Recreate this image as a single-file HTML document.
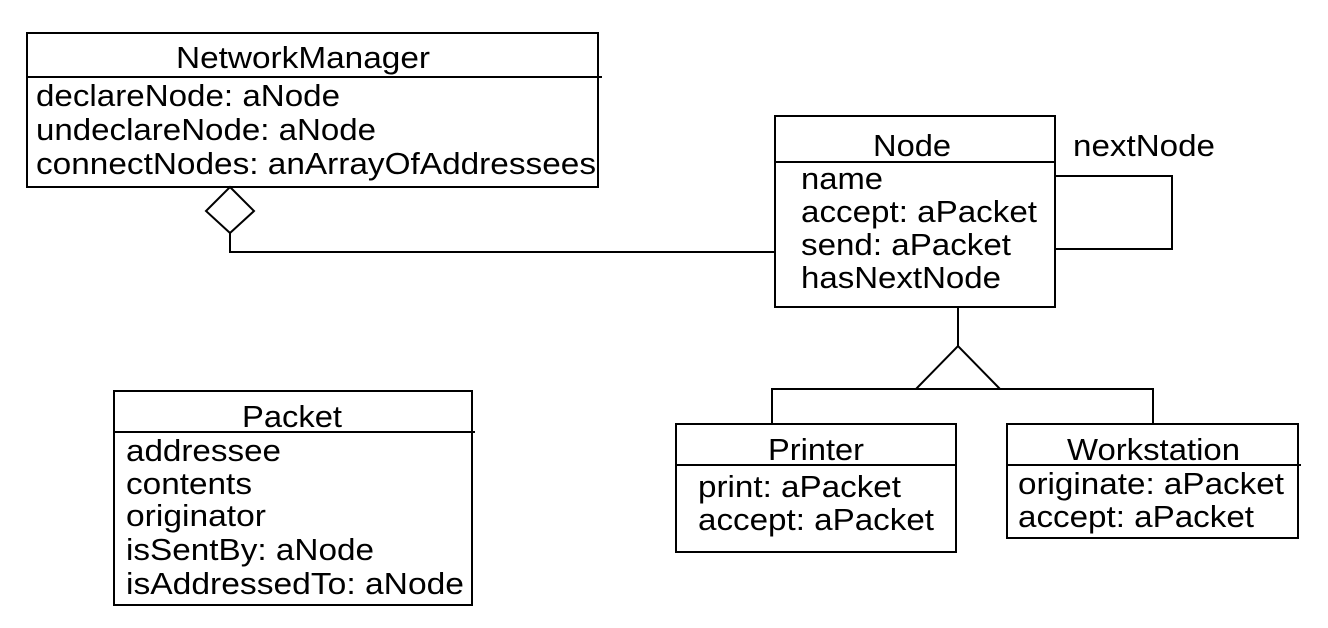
<!DOCTYPE html>
<html><head><meta charset="utf-8"><style>
html,body{margin:0;padding:0;background:#fff;}
svg{display:block;}
text{font-family:"Liberation Sans",Arial,sans-serif;font-size:31px;fill:#000;}
</style></head><body>
<svg width="1328" height="628" viewBox="0 0 1328 628" xmlns="http://www.w3.org/2000/svg">
<g fill="none" stroke="#000" stroke-width="2">
<rect x="27" y="33" width="571" height="154"/>
<line x1="27" y1="77" x2="602" y2="77"/>
<polygon points="230,187 254,211 230,233 206,211"/>
<polyline points="230,233 230,252 775,252"/>
<rect x="775" y="116" width="280" height="191"/>
<line x1="775" y1="162" x2="1055" y2="162"/>
<polyline points="1055,176 1172,176 1172,249 1055,249"/>
<line x1="958" y1="307" x2="958" y2="346"/>
<polyline points="916,389 958,346 1000,389"/>
<polyline points="772,424 772,389 1153,389 1153,424"/>
<rect x="676" y="424" width="280" height="128"/>
<line x1="676" y1="465" x2="956" y2="465"/>
<rect x="1007" y="424" width="291" height="114"/>
<line x1="1007" y1="465" x2="1301" y2="465"/>
<rect x="114" y="391" width="358" height="214"/>
<line x1="114" y1="432" x2="475" y2="432"/>
</g>
<text x="176" y="68" textLength="254" lengthAdjust="spacingAndGlyphs">NetworkManager</text>
<text x="36" y="106" textLength="304" lengthAdjust="spacingAndGlyphs">declareNode: aNode</text>
<text x="36" y="140" textLength="340" lengthAdjust="spacingAndGlyphs">undeclareNode: aNode</text>
<text x="36" y="174" textLength="560" lengthAdjust="spacingAndGlyphs">connectNodes: anArrayOfAddressees</text>

<text x="873" y="156" textLength="78" lengthAdjust="spacingAndGlyphs">Node</text>
<text x="1073" y="156" textLength="142" lengthAdjust="spacingAndGlyphs">nextNode</text>
<text x="801" y="189" textLength="82" lengthAdjust="spacingAndGlyphs">name</text>
<text x="801" y="222" textLength="236" lengthAdjust="spacingAndGlyphs">accept: aPacket</text>
<text x="801" y="255" textLength="210" lengthAdjust="spacingAndGlyphs">send: aPacket</text>
<text x="801" y="288" textLength="200" lengthAdjust="spacingAndGlyphs">hasNextNode</text>

<text x="768" y="460" textLength="96" lengthAdjust="spacingAndGlyphs">Printer</text>
<text x="698" y="497" textLength="203" lengthAdjust="spacingAndGlyphs">print: aPacket</text>
<text x="698" y="530" textLength="236" lengthAdjust="spacingAndGlyphs">accept: aPacket</text>

<text x="1067" y="460" textLength="173" lengthAdjust="spacingAndGlyphs">Workstation</text>
<text x="1018" y="494" textLength="266" lengthAdjust="spacingAndGlyphs">originate: aPacket</text>
<text x="1018" y="527" textLength="236" lengthAdjust="spacingAndGlyphs">accept: aPacket</text>

<text x="242" y="427" textLength="100" lengthAdjust="spacingAndGlyphs">Packet</text>
<text x="126" y="461" textLength="155" lengthAdjust="spacingAndGlyphs">addressee</text>
<text x="126" y="494" textLength="126" lengthAdjust="spacingAndGlyphs">contents</text>
<text x="126" y="526" textLength="140" lengthAdjust="spacingAndGlyphs">originator</text>
<text x="126" y="560" textLength="248" lengthAdjust="spacingAndGlyphs">isSentBy: aNode</text>
<text x="126" y="594" textLength="338" lengthAdjust="spacingAndGlyphs">isAddressedTo: aNode</text>
</svg>
</body></html>
